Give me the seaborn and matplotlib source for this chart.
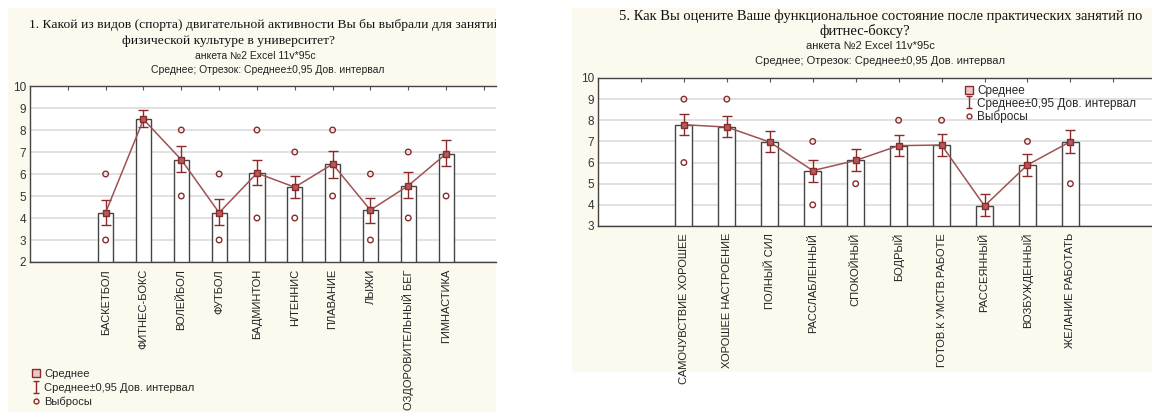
import numpy as np
import pandas as pd
import matplotlib
matplotlib.use('Agg')
import matplotlib.pyplot as plt
from matplotlib.patches import Rectangle
from matplotlib.lines import Line2D
from matplotlib.markers import MarkerStyle
from matplotlib.path import Path
import seaborn as sns

# left chart - which sport would you choose
sport_cats = ['БАСКЕТБОЛ', 'ФИТНЕС-БОКС', 'ВОЛЕЙБОЛ', 'ФУТБОЛ', 'БАДМИНТОН',
              'Н/ТЕННИС', 'ПЛАВАНИЕ', 'ЛЫЖИ', 'ОЗДОРОВИТЕЛЬНЫЙ БЕГ', 'ГИМНАСТИКА']
sport_mean = [4.25, 8.48, 6.65, 4.24, 6.04, 5.40, 6.45, 4.36, 5.47, 6.92]
sport_lo = [3.67, 8.13, 6.08, 3.70, 5.50, 4.89, 5.81, 3.78, 4.89, 6.37]
sport_hi = [4.82, 8.89, 7.26, 4.85, 6.65, 5.93, 7.06, 4.92, 6.10, 7.53]
sport_out_cat = ['БАСКЕТБОЛ', 'БАСКЕТБОЛ', 'ВОЛЕЙБОЛ', 'ВОЛЕЙБОЛ', 'ФУТБОЛ', 'ФУТБОЛ',
                 'БАДМИНТОН', 'БАДМИНТОН', 'Н/ТЕННИС', 'Н/ТЕННИС', 'ПЛАВАНИЕ', 'ПЛАВАНИЕ',
                 'ЛЫЖИ', 'ЛЫЖИ', 'ОЗДОРОВИТЕЛЬНЫЙ БЕГ', 'ОЗДОРОВИТЕЛЬНЫЙ БЕГ', 'ГИМНАСТИКА']
sport_out_val = [6, 3, 8, 5, 6, 3, 8, 4, 7, 4, 8, 5, 6, 3, 7, 4, 5]

# right chart - state after fitness-boxing classes
state_cats = ['САМОЧУВСТВИЕ ХОРОШЕЕ', 'ХОРОШЕЕ НАСТРОЕНИЕ', 'ПОЛНЫЙ СИЛ', 'РАССЛАБЛЕННЫЙ',
              'СПОКОЙНЫЙ', 'БОДРЫЙ', 'ГОТОВ.К УМСТВ.РАБОТЕ', 'РАССЕЯННЫЙ',
              'ВОЗБУЖДЕННЫЙ', 'ЖЕЛАНИЕ РАБОТАТЬ']
state_mean = [7.79, 7.68, 6.97, 5.62, 6.10, 6.80, 6.83, 3.95, 5.89, 6.99]
state_lo = [7.29, 7.21, 6.52, 5.08, 5.59, 6.30, 6.33, 3.47, 5.36, 6.43]
state_hi = [8.29, 8.18, 7.51, 6.14, 6.63, 7.29, 7.37, 4.49, 6.41, 7.56]
state_out_cat = ['САМОЧУВСТВИЕ ХОРОШЕЕ', 'САМОЧУВСТВИЕ ХОРОШЕЕ', 'ХОРОШЕЕ НАСТРОЕНИЕ',
                 'РАССЛАБЛЕННЫЙ', 'РАССЛАБЛЕННЫЙ', 'СПОКОЙНЫЙ', 'БОДРЫЙ',
                 'ГОТОВ.К УМСТВ.РАБОТЕ', 'ВОЗБУЖДЕННЫЙ', 'ЖЕЛАНИЕ РАБОТАТЬ']
state_out_val = [9, 6, 9, 7, 4, 5, 8, 8, 7, 5]

W, H = 1152, 412
BG = '#fcf9ef'
RED = '#8b2a2a'
LINE = '#a05252'

sns.set_theme(style='white')
plt.rcParams['font.family'] = ['Liberation Sans', 'DejaVu Sans']

fig = plt.figure(figsize=(W / 100, H / 100), dpi=100)


def fig_rect(x0, y0, x1, y1):
    return [x0 / W, 1 - y1 / H, (x1 - x0) / W, (y1 - y0) / H]


# beige panels behind both charts
left_bg = Rectangle((8 / W, 1 - 412 / H), 488 / W, 404 / H, transform=fig.transFigure,
                    facecolor=BG, edgecolor='none', zorder=0)
right_bg = Rectangle((572 / W, 1 - 372 / H), 580 / W, 364 / H, transform=fig.transFigure,
                     facecolor=BG, edgecolor='none', zorder=0)
fig.add_artist(left_bg)
fig.add_artist(right_bg)

ci_path = Path([(-0.6, -1), (0.6, -1), (0, -1), (0, 1), (-0.6, 1), (0.6, 1)],
               [Path.MOVETO, Path.LINETO, Path.MOVETO, Path.LINETO, Path.MOVETO, Path.LINETO])


def draw_panel(ax, cats, mean, lo, hi, out_cat, out_val, ymin, xmax, fs):
    mean = np.array(mean)
    pos = np.arange(len(cats))
    df = pd.DataFrame({'cat': cats, 'mean': mean})
    sns.barplot(data=df, x='cat', y='mean', ax=ax, width=0.4, color='white',
                edgecolor='#444444', linewidth=1.0, saturation=1, zorder=2)
    ax.errorbar(pos, mean, yerr=[mean - np.array(lo), np.array(hi) - mean], fmt='none',
                ecolor=RED, elinewidth=1, capsize=3.5, capthick=1, zorder=4)
    sns.lineplot(x=pos, y=mean, ax=ax, color=LINE, lw=1.1, marker='s', markersize=5,
                 markerfacecolor='#b45a5a', markeredgecolor=RED, markeredgewidth=1, zorder=5)
    idx = {c: i for i, c in enumerate(cats)}
    out_x = [idx[c] for c in out_cat]
    sns.scatterplot(x=out_x, y=out_val, ax=ax, marker=MarkerStyle('o', fillstyle='none'),
                    color=RED, edgecolor=None, s=16, linewidth=1, zorder=6)

    ax.set_facecolor('white')
    ax.set_xlim(-2, xmax)
    ax.set_ylim(ymin, 10)
    ticks = list(range(-2, 11))
    ax.set_xticks(ticks)
    ax.set_xticklabels(['', ''] + cats + [''], rotation=90, fontsize=fs, color='#222')
    ax.set_yticks(range(ymin, 11))
    ax.tick_params(axis='y', labelsize=fs + 0.5, labelcolor='#333', length=0, pad=3)
    ax.tick_params(axis='x', direction='out', length=3, width=0.8, color='#555', pad=2)
    top = ax.secondary_xaxis('top')
    top.set_xticks(ticks)
    top.set_xticklabels([])
    top.tick_params(direction='in', length=3, width=0.8, color='#555')
    top.spines['top'].set_visible(False)
    ax.set_xlabel('')
    ax.set_ylabel('')
    ax.yaxis.grid(True, color='#dedede', lw=1.3, zorder=0)
    ax.set_axisbelow(True)
    for s in ['left', 'top', 'bottom']:
        ax.spines[s].set_visible(True)
        ax.spines[s].set_color('#444')
        ax.spines[s].set_linewidth(1)
    ax.spines['right'].set_visible(False)


ax1 = fig.add_axes(fig_rect(30, 86, 496, 262))
draw_panel(ax1, sport_cats, sport_mean, sport_lo, sport_hi, sport_out_cat, sport_out_val,
           2, 10.32, 8)

ax2 = fig.add_axes(fig_rect(598, 78, 1152, 226))
draw_panel(ax2, state_cats, state_mean, state_lo, state_hi, state_out_cat, state_out_val,
           3, 10.9, 8)

# titles
t1 = fig.text(29 / W, 1 - 25 / H,
              '1. Какой из видов (спорта) двигательной активности Вы бы выбрали для занятий по',
              family=['Liberation Serif', 'DejaVu Serif'], fontsize=9.7, color='#111',
              ha='left', va='center')
t1.set_clip_path(left_bg)
fig.text(228 / W, 1 - 41 / H, 'физической культуре в университет?',
         family=['Liberation Serif', 'DejaVu Serif'], fontsize=9.7, color='#111',
         ha='center', va='center')
fig.text(255 / W, 1 - 56 / H, 'анкета №2 Excel 11v*95c', fontsize=7.5, color='#222',
         ha='center', va='center')
fig.text(268 / W, 1 - 70 / H, 'Среднее; Отрезок: Среднее±0,95 Дов. интервал', fontsize=7.5,
         color='#222', ha='center', va='center')

fig.text(881 / W, 1 - 16 / H,
         '5. Как Вы оцените Ваше функциональное состояние после практических занятий по',
         family=['Liberation Serif', 'DejaVu Serif'], fontsize=10.5, color='#111',
         ha='center', va='center')
fig.text(865 / W, 1 - 31 / H, 'фитнес-боксу?', family=['Liberation Serif', 'DejaVu Serif'],
         fontsize=10.5, color='#111', ha='center', va='center')
fig.text(870 / W, 1 - 46 / H, 'анкета №2 Excel 11v*95c', fontsize=8, color='#222',
         ha='center', va='center')
fig.text(880 / W, 1 - 61 / H, 'Среднее; Отрезок: Среднее±0,95 Дов. интервал', fontsize=8,
         color='#222', ha='center', va='center')

# legends
handles = [
    Line2D([], [], ls='none', marker='s', markersize=6, markerfacecolor='#e8c8c8',
           markeredgecolor=RED, markeredgewidth=1),
    Line2D([], [], ls='none', marker=ci_path, markersize=8, markeredgecolor=RED,
           markeredgewidth=1, color=RED),
    Line2D([], [], ls='none', marker='o', markersize=3.5, markerfacecolor='none',
           markeredgecolor=RED, markeredgewidth=1),
]
labels = ['Среднее', 'Среднее±0,95 Дов. интервал', 'Выбросы']
fig.legend(handles, labels, loc='upper left', bbox_to_anchor=(32 / W, 1 - 369 / H),
           frameon=False, fontsize=8, handlelength=0.8, handletextpad=0.3,
           labelspacing=0.35, borderpad=0, borderaxespad=0)
fig.legend(handles, labels, loc='upper left', bbox_to_anchor=(964 / W, 1 - 85 / H),
           frameon=False, fontsize=8.5, handlelength=0.8, handletextpad=0.3,
           labelspacing=0.05, borderpad=0, borderaxespad=0)

fig.savefig('out.png', dpi=100)
